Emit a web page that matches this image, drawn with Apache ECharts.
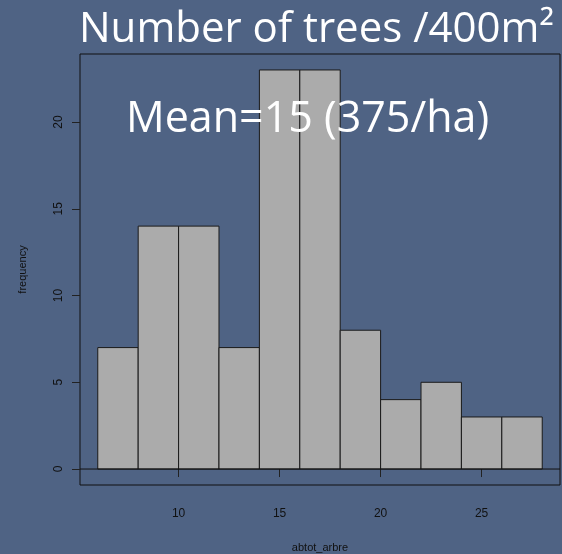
<!DOCTYPE html>
<html>
<head>
<meta charset="utf-8">
<script src="https://cdn.jsdelivr.net/npm/echarts@6/dist/echarts.min.js"></script>
<style>
html,body{margin:0;padding:0;background:#4F6384;}
#chart{width:562px;height:554px;}
</style>
</head>
<body>
<div id="chart"></div>
<script>
// Histogram bins (abtot_arbre) and frequencies
const binStart = [6, 8, 10, 12, 14, 16, 18, 20, 22, 24, 26];
const binEnd   = [8, 10, 12, 14, 16, 18, 20, 22, 24, 26, 28];
const counts   = [7, 14, 14, 7, 23, 23, 8, 4, 5, 3, 3];
const xTicks = [10, 15, 20, 25];
const yTicks = [0, 5, 10, 15, 20];
const titleText = 'Number of trees /400m²';
const meanText = 'Mean=15 (375/ha)';
const xName = 'abtot_arbre';
const yName = 'frequency';

const data = binStart.map((s, i) => [s, binEnd[i], counts[i]]);

const chart = echarts.init(document.getElementById('chart'), null, {renderer: 'canvas'});
chart.setOption({
  backgroundColor: '#4F6384',
  animation: false,
  title: {
    text: titleText,
    left: 74,
    top: 4,
    textStyle: {color: '#ffffff', fontFamily: 'Open Sans', fontWeight: 'normal', fontSize: 42}
  },
  grid: {
    left: 80, top: 54, width: 480, height: 431,
    outerBoundsMode: 'none', containLabel: false,
    show: true, borderColor: '#111111', borderWidth: 1, backgroundColor: 'transparent'
  },
  xAxis: {
    type: 'value', min: 5.12, max: 28.88,
    name: xName, nameLocation: 'middle', nameGap: 57,
    nameTextStyle: {color: '#111', fontFamily: 'Liberation Sans', fontSize: 11},
    axisLine: {show: false},
    splitLine: {show: false},
    axisTick: {show: true, length: 8, customValues: xTicks, lineStyle: {color: '#222'}},
    axisLabel: {customValues: xTicks, color: '#111', fontFamily: 'Liberation Sans', fontSize: 12, margin: 23}
  },
  yAxis: {
    type: 'value', min: -0.92, max: 23.92,
    name: yName, nameLocation: 'middle', nameGap: 52,
    nameTextStyle: {color: '#111', fontFamily: 'Liberation Sans', fontSize: 11},
    axisLine: {show: false},
    splitLine: {show: false},
    axisTick: {show: true, length: 8, customValues: yTicks, lineStyle: {color: '#222'}},
    axisLabel: {customValues: yTicks, rotate: 90, color: '#111', fontFamily: 'Liberation Sans', fontSize: 12, margin: 15}
  },
  graphic: [{
    type: 'text', left: 126, top: 98, z: 100,
    style: {text: meanText, fill: '#ffffff', font: '43px "Open Sans"'}
  }],
  series: [{
    type: 'custom',
    data: data,
    encode: {x: [0, 1], y: 2},
    renderItem: function (params, api) {
      const p0 = api.coord([api.value(0), api.value(2)]);
      const p1 = api.coord([api.value(1), 0]);
      return {
        type: 'rect',
        shape: {x: p0[0], y: p0[1], width: p1[0] - p0[0], height: p1[1] - p0[1]},
        style: {fill: '#ABABAB', stroke: '#1a1a1a', lineWidth: 1}
      };
    }
  }, {
    type: 'line',
    data: [[5.12, 0], [28.88, 0]],
    symbol: 'none',
    silent: true,
    lineStyle: {color: '#111', width: 1}
  }]
});
</script>
</body>
</html>
